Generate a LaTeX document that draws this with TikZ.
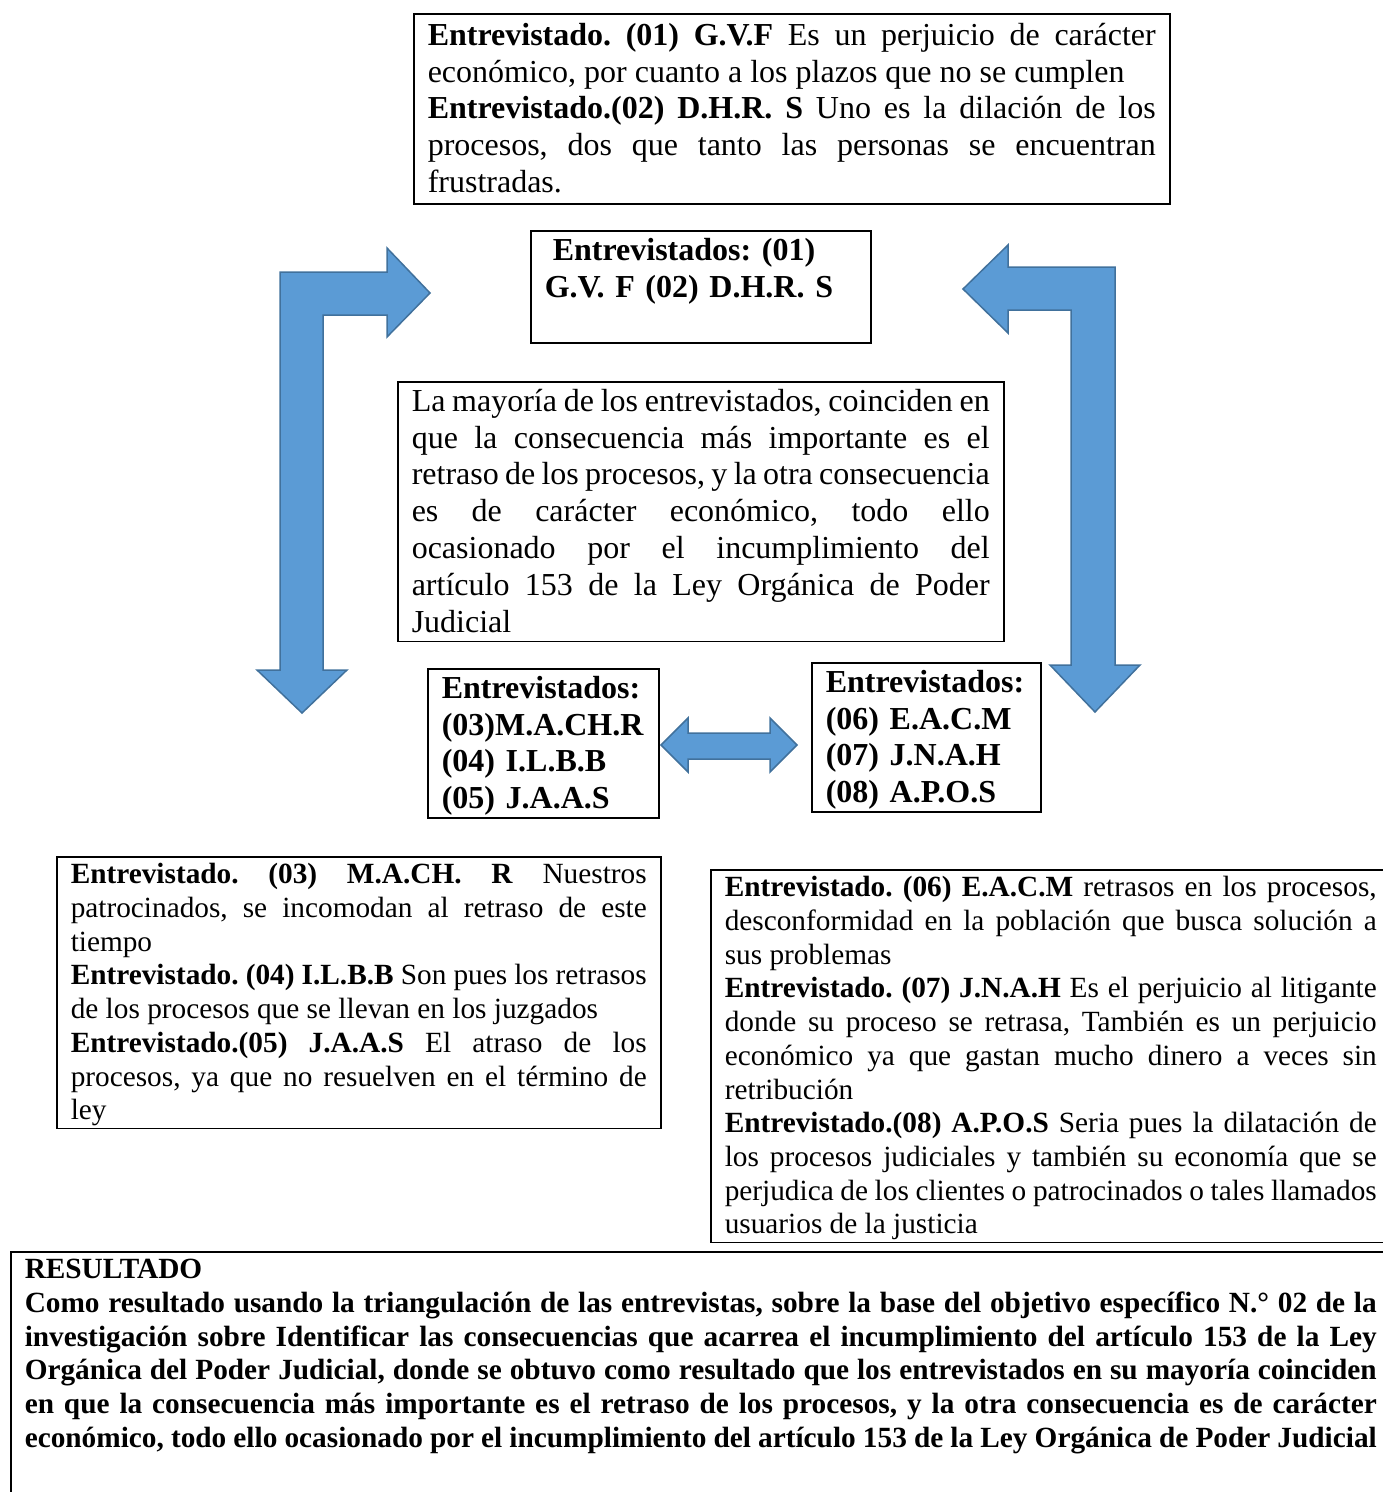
\documentclass[tikz,border=0pt]{standalone}
\usepackage{fontspec}
\setmainfont{Liberation Serif}
\frenchspacing
\definecolor{arrowblue}{RGB}{91,155,213}
\definecolor{arrowedge}{RGB}{65,113,156}
\newcommand{\lstrut}{\rule[-0.26em]{0pt}{1.15em}}

\begin{document}
\begin{tikzpicture}[x=1pt,y=-1pt,
  box/.style={draw,line width=1.5pt,anchor=north west,inner xsep=14pt,inner ysep=1pt,
    align=justify,execute at begin node={\hyphenpenalty=10000\frenchspacing\lstrut},execute at end node={\lstrut}},
  big/.style={font=\fontsize{32}{36.8}\selectfont},
  small/.style={font=\fontsize{29.3}{33.7}\selectfont},
  blockarrow/.style={fill=arrowblue,draw=arrowedge,line width=1.5pt,line join=miter}]
\useasboundingbox (0,0) rectangle (1383,1492);
\node[box,big,text width=728pt,minimum height=190pt] (gvf) at (413,13) {\textbf{Entrevistado. (01) G.V.F} Es un perjuicio de carácter\linebreak económico, por cuanto a los plazos que no se cumplen\par \textbf{Entrevistado.(02) D.H.R. S} Uno es la dilación de los\linebreak procesos, dos que tanto las personas se encuentran\linebreak frustradas.};
\node[box,big,align=left,text width=312pt,minimum height=112pt,font=\fontsize{32}{36.8}\selectfont\bfseries] (e12) at (530,230) {\hspace{8pt}Entrevistados: (01)\\G.V. F (02) D.H.R. S\\\mbox{}};
\node[box,big,text width=578pt,minimum height=259pt] (mayoria) at (397,381) {La mayoría de los entrevistados, coinciden en\linebreak que la consecuencia más importante es el\linebreak retraso de los procesos, y la otra consecuencia\linebreak es de carácter económico, todo ello\linebreak ocasionado por el incumplimiento del\linebreak artículo 153 de la Ley Orgánica de Poder\linebreak Judicial};
\node[box,align=left,text width=203pt,minimum height=149pt,font=\fontsize{32}{36.8}\selectfont\bfseries] (e345) at (427,668) {Entrevistados:\\(03)M.A.CH.R\\(04) I.L.B.B\\(05) J.A.A.S};
\node[box,align=left,text width=201pt,minimum height=148pt,font=\fontsize{32}{36.8}\selectfont\bfseries] (e678) at (811,662) {Entrevistados:\\(06) E.A.C.M\\(07) J.N.A.H\\(08) A.P.O.S};
\node[box,small,text width=576pt,minimum height=271pt] (r345) at (56,856) {\textbf{Entrevistado. (03) M.A.CH. R} Nuestros\linebreak patrocinados, se incomodan al retraso de este\linebreak tiempo\par \textbf{Entrevistado. (04) I.L.B.B} Son pues los retrasos\linebreak de los procesos que se llevan en los juzgados\par \textbf{Entrevistado.(05) J.A.A.S} El atraso de los\linebreak procesos, ya que no resuelven en el término de\linebreak ley};
\node[box,small,text width=652pt,minimum height=371pt] (r678) at (710,869) {\textbf{Entrevistado. (06) E.A.C.M} retrasos en los procesos,\linebreak desconformidad en la población que busca solución a\linebreak sus problemas\par \textbf{Entrevistado. (07) J.N.A.H} Es el perjuicio al litigante\linebreak donde su proceso se retrasa, También es un perjuicio\linebreak económico ya que gastan mucho dinero a veces sin\linebreak retribución\par \textbf{Entrevistado.(08) A.P.O.S} Seria pues la dilatación de\linebreak los procesos judiciales y también su economía que se\linebreak perjudica de los clientes o patrocinados o tales llamados\linebreak usuarios de la justicia};
\node[box,text width=1352pt,font=\fontsize{29.3}{33.7}\selectfont\bfseries] (resultado) at (10,1251) {RESULTADO\par Como resultado usando la triangulación de las entrevistas, sobre la base del objetivo específico N.° 02 de la\linebreak investigación sobre Identificar las consecuencias que acarrea el incumplimiento del artículo 153 de la Ley\linebreak Orgánica del Poder Judicial, donde se obtuvo como resultado que los entrevistados en su mayoría coinciden\linebreak en que la consecuencia más importante es el retraso de los procesos, y la otra consecuencia es de carácter\linebreak económico, todo ello ocasionado por el incumplimiento del artículo 153 de la Ley Orgánica de Poder Judicial\par\mbox{}\par\mbox{}};
\draw[blockarrow] (302,713) -- (347,670) -- (323,670) -- (323,315) -- (387,315) -- (387,337) -- (430,293) -- (387,248) -- (387,272) -- (280,272) -- (280,670) -- (257,670) -- cycle;
\draw[blockarrow] (1095,712) -- (1140,665) -- (1115,665) -- (1115,267) -- (1008,267) -- (1008,245) -- (963,289) -- (1008,333) -- (1008,310) -- (1071,310) -- (1071,665) -- (1050,665) -- cycle;
\draw[blockarrow] (661,745) -- (688,718) -- (688,733) -- (770,733) -- (770,718) -- (797,745) -- (770,772) -- (770,759) -- (688,759) -- (688,772) -- cycle;
\end{tikzpicture}
\end{document}
